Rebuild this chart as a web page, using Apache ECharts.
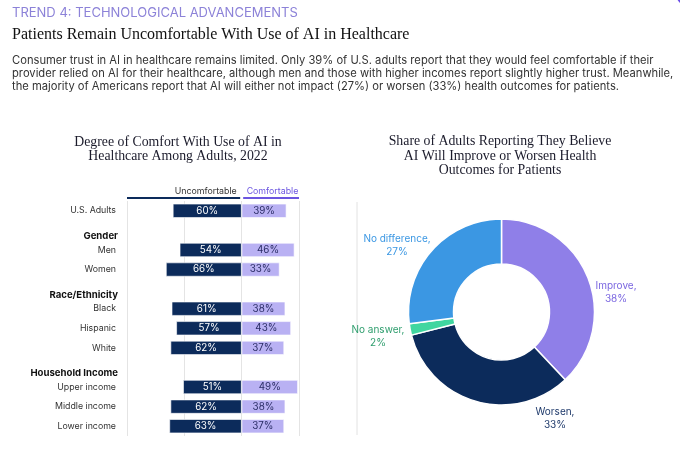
<!DOCTYPE html>
<html>
<head>
<meta charset="utf-8">
<script src="https://cdn.jsdelivr.net/npm/echarts@6/dist/echarts.min.js"></script>
<style>
  html, body { margin: 0; padding: 0; background: #fff; }
  #chart { width: 680px; height: 457px; }
</style>
</head>
<body>
<div id="chart"></div>
<script>
const trendText = 'TREND 4: TECHNOLOGICAL ADVANCEMENTS'
const mainTitle = 'Patients Remain Uncomfortable With Use of AI in Healthcare'
const bodyLines = [
  'Consumer trust in AI in healthcare remains limited. Only 39% of U.S. adults report that they would feel comfortable if their',
  'provider relied on AI for their healthcare, although men and those with higher incomes report slightly higher trust. Meanwhile,',
  'the majority of Americans report that AI will either not impact (27%) or worsen (33%) health outcomes for patients.'
]
const barTitle = 'Degree of Comfort With Use of AI in\nHealthcare Among Adults, 2022'
const pieTitle = 'Share of Adults Reporting They Believe\nAI Will Improve or Worsen Health\nOutcomes for Patients'

const categories = ['U.S. Adults', 'Gender', 'Men', 'Women', 'Race/Ethnicity', 'Black', 'Hispanic', 'White',
  'Household Income', 'Upper income', 'Middle income', 'Lower income']
const headers = ['Gender', 'Race/Ethnicity', 'Household Income']
const uncomfortable = [60, '-', 54, 66, '-', 61, 57, 62, '-', 51, 62, 63]
const comfortable = [39, '-', 46, 33, '-', 38, 43, 37, '-', 49, 38, 37]
const xTicks = [-100, 50, 50] // min, max, interval

const outcomeNames = ['Improve', 'Worsen', 'No answer', 'No difference']
const outcomeValues = [38, 33, 2, 27]

const NAVY = '#0c2b5b'
const LILAC = '#b9b1f3'
const PURPLE = '#6b55e0'
const SANS = 'Inter, "Noto Sans", sans-serif'
const SERIF = '"Liberation Serif", serif'

// label spots for the donut, as in the original layout
const pieColors = { 'Improve': '#8f7fe8', 'Worsen': NAVY, 'No answer': '#40d6a0', 'No difference': '#3b97e3' }
const pieLabelColors = { 'Improve': '#7a66e0', 'Worsen': '#1f3a6b', 'No answer': '#2f9e6e', 'No difference': '#3b97e3' }
const pieLabelSpots = { 'Improve': [616, 292], 'Worsen': [555, 418], 'No answer': [378, 336], 'No difference': [397, 245] }

const myChart = echarts.init(document.getElementById('chart'))

const options = {
  backgroundColor: '#fff',
  animation: false,
  title: [
    { text: trendText, left: 12, top: 7, padding: 0,
      textStyle: { fontFamily: SANS, fontSize: 13, fontWeight: 400, color: '#8c82d8' } },
    { text: mainTitle, left: 12, top: 26.5, padding: 0,
      textStyle: { fontFamily: SERIF, fontSize: 16, fontWeight: 400, color: '#111' } },
    { text: bodyLines.join('\n'), left: 12, top: 54.5, padding: 0,
      textStyle: { fontFamily: SANS, fontSize: 11.2, fontWeight: 400, color: '#333', lineHeight: 13 } },
    { text: barTitle, left: 178, top: 136, padding: 0, textAlign: 'center',
      textStyle: { fontFamily: SERIF, fontSize: 13.8, fontWeight: 400, color: '#1b1b2b', lineHeight: 13.5 } },
    { text: pieTitle, left: 500, top: 134.5, padding: 0, textAlign: 'center',
      textStyle: { fontFamily: SERIF, fontSize: 13.8, fontWeight: 400, color: '#1b1b2b', lineHeight: 14.5 } }
  ],
  grid: { left: 127, right: 381, top: 201, bottom: 21, containLabel: false },
  xAxis: {
    type: 'value',
    min: xTicks[0],
    max: xTicks[1],
    interval: xTicks[2],
    axisLabel: { show: false },
    axisTick: { show: false },
    axisLine: { show: false },
    splitLine: { lineStyle: { color: '#e4e4e4', width: 1 } }
  },
  yAxis: {
    type: 'category',
    data: categories,
    inverse: true,
    axisLine: { show: false },
    axisTick: { show: false },
    splitLine: { show: false },
    axisLabel: {
      margin: 9,
      formatter: v => headers.includes(v) ? '{h|' + v + '}' : '{r|' + v + '}',
      rich: {
        r: { fontFamily: SANS, fontSize: 8.8, color: '#333', padding: [0, 2, 0, 0] },
        h: { fontFamily: SANS, fontSize: 9.6, fontWeight: 'bold', color: '#111', padding: [11, 0, 0, 0] }
      }
    }
  },
  series: [
    {
      name: 'Uncomfortable',
      type: 'bar',
      stack: 'comfort',
      barWidth: 14,
      data: uncomfortable.map(v => v === '-' ? '-' : -v),
      itemStyle: { color: NAVY, borderColor: '#fff', borderWidth: 0.6 },
      label: {
        show: true, position: 'inside', color: '#fff', fontFamily: SANS, fontSize: 9.8,
        formatter: p => Math.abs(p.value) + '%'
      }
    },
    {
      name: 'Comfortable',
      type: 'bar',
      stack: 'comfort',
      barWidth: 14,
      data: comfortable,
      itemStyle: { color: LILAC, borderColor: '#fff', borderWidth: 0.6 },
      label: {
        show: true, position: 'inside', color: '#2b2d66', fontFamily: SANS, fontSize: 9.8,
        formatter: '{c}%'
      }
    },
    {
      name: 'Outcomes',
      type: 'pie',
      center: [501.5, 312],
      radius: [48, 93],
      startAngle: 90,
      clockwise: true,
      data: outcomeNames.map((n, i) => ({
        name: n,
        value: outcomeValues[i],
        itemStyle: { color: pieColors[n] },
        label: { color: pieLabelColors[n] }
      })),
      itemStyle: { borderColor: '#fff', borderWidth: 1.5 },
      label: {
        show: true,
        position: 'outside',
        formatter: '{b},\n{c}%',
        fontFamily: SANS,
        fontSize: 10,
        lineHeight: 13,
        align: 'center',
        overflow: 'none',
        width: 90
      },
      labelLine: { show: false },
      labelLayout: p => {
        const spot = pieLabelSpots[outcomeNames[p.dataIndex]]
        return { x: spot[0], y: spot[1], align: 'center', verticalAlign: 'middle' }
      },
      emphasis: { disabled: true }
    }
  ]
}

myChart.setOption(options)

// column headers above the bars, tied to the axis scale
const px = v => myChart.convertToPixel({ xAxisIndex: 0 }, v)
const x0 = px(xTicks[0])
const xMid = px(0)
const x1 = px(xTicks[1])
myChart.setOption({
  graphic: [
    { type: 'text', x: xMid - 5, y: 191,
      style: { text: 'Uncomfortable', fill: '#333', font: '8.8px ' + SANS, textAlign: 'right', textVerticalAlign: 'middle' } },
    { type: 'text', x: xMid + 5, y: 191,
      style: { text: 'Comfortable', fill: PURPLE, font: '8.8px ' + SANS, textAlign: 'left', textVerticalAlign: 'middle' } },
    { type: 'line', shape: { x1: x0, y1: 198, x2: xMid - 1.5, y2: 198 }, style: { stroke: NAVY, lineWidth: 2 } },
    { type: 'line', shape: { x1: xMid + 1.5, y1: 198, x2: x1, y2: 198 }, style: { stroke: PURPLE, lineWidth: 2 } },
    // thin rule at the left of the donut panel
    { type: 'line', shape: { x1: 357, y1: 202, x2: 357, y2: 435 }, style: { stroke: '#e2e2e2', lineWidth: 1 } },
    // corner badge, mostly off the page
    { type: 'circle', shape: { cx: 696, cy: -12, r: 22 }, style: { fill: '#6b4fe8' } }
  ]
})
</script>
</body>
</html>
